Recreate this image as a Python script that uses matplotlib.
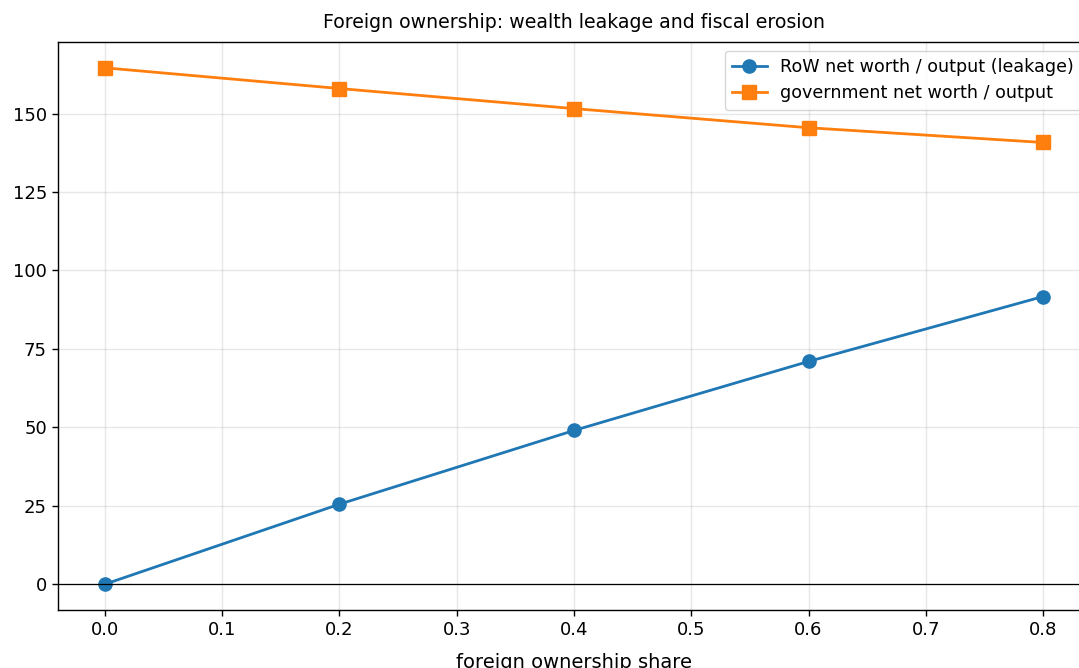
import matplotlib
matplotlib.use("Agg")
import matplotlib.pyplot as plt

share = [0.0, 0.2, 0.4, 0.6, 0.8]
row_nw = [0.0, 25.5, 49.0, 71.0, 91.7]
gov_nw = [164.6, 158.0, 151.6, 145.5, 140.8]

fig = plt.figure(figsize=(10.79, 6.68), dpi=100)
ax = fig.add_axes([58/1079, 58/668, (1090-58)/1079, (610-42)/668])
ax.plot(share, row_nw, marker="o", markersize=9.5, lw=2.0, label="RoW net worth / output (leakage)")
ax.plot(share, gov_nw, marker="s", markersize=9.5, lw=2.0, label="government net worth / output")
ax.axhline(0, color="black", lw=0.9)
ax.grid(True, alpha=0.3, lw=1.0)
for s in ax.spines.values():
    s.set_linewidth(1.0)
ax.set_title("Foreign ownership: wealth leakage and fiscal erosion", fontsize=13.6, pad=10)
ax.set_xlabel("foreign ownership share", fontsize=14, labelpad=10)
ax.tick_params(labelsize=13, length=4.5, width=1.0)
ax.legend(loc="upper right", fontsize=12.6)
fig.savefig("out.png", dpi=100)
